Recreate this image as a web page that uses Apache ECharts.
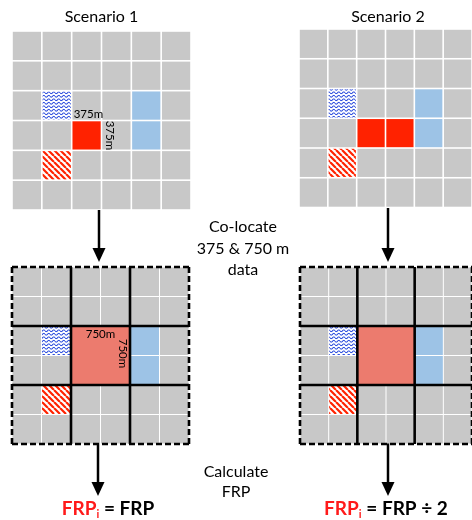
<!DOCTYPE html>
<html><head><meta charset="utf-8">
<script src="https://cdn.jsdelivr.net/npm/echarts@6/dist/echarts.min.js"></script>
<style>html,body{margin:0;padding:0;background:#fff}#c{width:472px;height:520px}</style>
</head><body><div id="c"></div>
<script>
// ---------- data ----------
const GRID_N = 6;                 // 375 m pixels per side
const BLOCK = 2;                  // 375 m pixels per 750 m pixel
const scenarioTitles = ['Scenario 1', 'Scenario 2'];
const cellKinds = ['background', 'water (wavy)', 'hatched', 'water', 'fire'];
const waveCells = [[1, 2]];
const hatchCells = [[1, 4]];
const waterCells = [[4, 2], [4, 3]];
const fireCells375 = [[[2, 3]], [[2, 3], [3, 3]]];   // per scenario
const fireBlock750 = [[1, 1], [1, 1]];              // block col,row per scenario
const sizeLabel375 = '375m';
const sizeLabel750 = '750m';
const labelledScenario = 0;
const stepText1 = ['Co-locate', '375 & 750 m', 'data'];
const stepText2 = ['Calculate', 'FRP'];
const resultSub = 'i';
const resultRhs = [' = FRP', ' = FRP \u00f7 2'];

// ---------- styles ----------
const C_BG = '#c8c8c8', C_WATER = '#9dc3e6', C_FIRE = '#ff2200', C_FIRE750 = '#ec7b6e';
const FONT = 'Lato, "Open Sans", sans-serif';

function makeWave() {
  const cv = document.createElement('canvas'); cv.width = 10; cv.height = 7;
  const g = cv.getContext('2d'); g.fillStyle = '#fff'; g.fillRect(0, 0, 10, 7);
  g.strokeStyle = '#2446dc'; g.lineWidth = 1.9; g.beginPath();
  for (let x = 0; x <= 10; x += 0.5) { const y = 3.5 + 1.8 * Math.sin(x / 10 * 2 * Math.PI); x === 0 ? g.moveTo(x, y) : g.lineTo(x, y); }
  g.stroke();
  return { image: cv, repeat: 'repeat', scaleX: 0.5, scaleY: 0.5 };
}
function makeHatch() {
  const cv = document.createElement('canvas'); cv.width = 12; cv.height = 12;
  const g = cv.getContext('2d'); g.fillStyle = '#fff'; g.fillRect(0, 0, 12, 12);
  g.strokeStyle = C_FIRE; g.lineWidth = 4.4;
  [-12, 0, 12].forEach(function (o) { g.beginPath(); g.moveTo(o, 0); g.lineTo(o + 12, 12); g.stroke(); });
  return { image: cv, repeat: 'repeat', scaleX: 0.5, scaleY: 0.5 };
}
const FILLS = [C_BG, makeWave(), makeHatch(), C_WATER, C_FIRE];

// ---------- build cell tables ----------
function cellTable(scn, fine) {
  const kind = {};
  const put = (list, k) => list.forEach(p => { kind[p[0] + ',' + p[1]] = k; });
  put(waveCells, 1); put(hatchCells, 2); put(waterCells, 3);
  if (fine) put(fireCells375[scn], 4);
  const out = [];
  for (let r = 0; r < GRID_N; r++) for (let c = 0; c < GRID_N; c++) out.push([c, r, kind[c + ',' + r] || 0]);
  return out;
}
function blockLines() {
  const out = [];
  out.push([0, 0, GRID_N, 0, 1], [0, GRID_N, GRID_N, GRID_N, 1], [0, 0, 0, GRID_N, 1], [GRID_N, 0, GRID_N, GRID_N, 1]);
  for (let k = BLOCK; k < GRID_N; k += BLOCK) { out.push([k, 0, k, GRID_N, 0]); out.push([0, k, GRID_N, k, 0]); }
  return out;
}

// ---------- layout ----------
const panels = [
  { left: 12, top: 31, size: 179 },
  { left: 299, top: 29, size: 178.5 },
  { left: 12, top: 267, size: 177 },
  { left: 300, top: 267, size: 177 }
];
const grids = [], xAxes = [], yAxes = [];
panels.forEach(function (p, i) {
  grids.push({ left: p.left, top: p.top, width: p.size, height: p.size, containLabel: false });
  xAxes.push({ gridIndex: i, type: 'value', min: 0, max: GRID_N, show: false });
  yAxes.push({ gridIndex: i, type: 'value', min: 0, max: GRID_N, inverse: true, show: false });
});

function cellRender(gap) {
  return function (params, api) {
    const c = api.value(0), r = api.value(1), k = api.value(2);
    const a = api.coord([c, r]), b = api.coord([c + 1, r + 1]);
    return { type: 'rect', shape: { x: a[0] + gap, y: a[1] + gap, width: b[0] - a[0] - 2 * gap, height: b[1] - a[1] - 2 * gap }, style: { fill: FILLS[k] } };
  };
}
function fineLabels(scn) {
  return function (params, api) {
    const c = api.value(0), r = api.value(1);
    const a = api.coord([c, r]), b = api.coord([c + 1, r + 1]);
    return { type: 'group', children: [
      { type: 'text', x: a[0] + 2, y: a[1] - 0.5, style: { text: sizeLabel375, font: '11.5px ' + FONT, fill: '#000', align: 'left', verticalAlign: 'bottom' } },
      { type: 'text', x: b[0] + 8, y: (a[1] + b[1]) / 2, rotation: -Math.PI / 2, style: { text: sizeLabel375, font: '11.5px ' + FONT, fill: '#000', align: 'center', verticalAlign: 'middle' } }
    ] };
  };
}
function blockRender(withLabel) {
  return function (params, api) {
    const bc = api.value(0), br = api.value(1);
    const a = api.coord([bc * BLOCK, br * BLOCK]), b = api.coord([(bc + 1) * BLOCK, (br + 1) * BLOCK]);
    const ch = [{ type: 'rect', shape: { x: a[0], y: a[1], width: b[0] - a[0], height: b[1] - a[1] }, style: { fill: C_FIRE750 } }];
    if (withLabel) {
      ch.push({ type: 'text', x: (a[0] + b[0]) / 2, y: a[1] + 8, z2: 10, style: { text: sizeLabel750, font: '11.5px ' + FONT, fill: '#000', align: 'center', verticalAlign: 'middle' } });
      ch.push({ type: 'text', x: b[0] - 7, y: (a[1] + b[1]) / 2 - 2, rotation: -Math.PI / 2, z2: 10, style: { text: sizeLabel750, font: '11.5px ' + FONT, fill: '#000', align: 'center', verticalAlign: 'middle' } });
    }
    return { type: 'group', children: ch };
  };
}
function lineRender(params, api) {
  const a = api.coord([api.value(0), api.value(1)]), b = api.coord([api.value(2), api.value(3)]);
  return { type: 'line', shape: { x1: a[0], y1: a[1], x2: b[0], y2: b[1] }, style: { stroke: '#000', lineWidth: 2.6, lineDash: api.value(4) ? [6, 3] : null, lineCap: 'butt' } };
}

const series = [];
[0, 1].forEach(function (s) {
  series.push({ type: 'custom', xAxisIndex: s, yAxisIndex: s, data: cellTable(s, true), renderItem: cellRender(0.8), silent: true, animation: false });
  if (s === labelledScenario) series.push({ type: 'custom', xAxisIndex: s, yAxisIndex: s, data: [fireCells375[s][fireCells375[s].length - 1]], renderItem: fineLabels(s), silent: true, animation: false, z: 5 });
  const g = s + 2;
  series.push({ type: 'custom', xAxisIndex: g, yAxisIndex: g, data: cellTable(s, false), renderItem: cellRender(0.5), silent: true, animation: false });
  series.push({ type: 'custom', xAxisIndex: g, yAxisIndex: g, data: [fireBlock750[s]], renderItem: blockRender(s === labelledScenario), silent: true, animation: false, z: 3 });
  series.push({ type: 'custom', xAxisIndex: g, yAxisIndex: g, data: blockLines(), renderItem: lineRender, silent: true, animation: false, z: 4 });
});

// ---------- annotations ----------
function arrow(x, y1, y2) {
  return { type: 'group', children: [
    { type: 'line', shape: { x1: x, y1: y1, x2: x, y2: y2 - 12 }, style: { stroke: '#000', lineWidth: 2.5 } },
    { type: 'polygon', shape: { points: [[x - 6.5, y2 - 14], [x + 6.5, y2 - 14], [x, y2]] }, style: { fill: '#000' } }
  ] };
}
function textLines(lines, cx, y0, dy, size) {
  return lines.map(function (t, i) {
    return { type: 'text', x: cx, y: y0 + i * dy, style: { text: t, font: size + 'px ' + FONT, fill: '#000', align: 'center', verticalAlign: 'middle' } };
  });
}
function result(cx, rhs) {
  return { type: 'text', x: cx, y: 509, style: {
    text: '{a|FRP}{s|' + resultSub + '}{b|' + rhs + '}', align: 'center', verticalAlign: 'middle',
    rich: {
      a: { fontFamily: FONT, fontWeight: 'bold', fontSize: 19, fill: '#ff1a1a', lineHeight: 22 },
      s: { fontFamily: FONT, fontWeight: 'bold', fontSize: 11, fill: '#ff1a1a', verticalAlign: 'bottom', lineHeight: 22 },
      b: { fontFamily: FONT, fontWeight: 'bold', fontSize: 19, fill: '#000', lineHeight: 22 }
    } } };
}
const graphics = [].concat(
  textLines([scenarioTitles[0]], 101.5, 17, 0, 16),
  textLines([scenarioTitles[1]], 388, 17, 0, 16),
  textLines(stepText1, 243, 227, 21.5, 16),
  textLines(stepText2, 236, 472, 20, 16),
  [arrow(99, 210, 262), arrow(388, 208, 262), arrow(98, 443, 496), arrow(388, 443, 496),
   result(108, resultRhs[0]), result(386, resultRhs[1])]
);

const chart = echarts.init(document.getElementById('c'), null, { renderer: 'canvas' });
chart.setOption({ animation: false, backgroundColor: '#fff', grid: grids, xAxis: xAxes, yAxis: yAxes, series: series, graphic: graphics });
</script></body></html>
